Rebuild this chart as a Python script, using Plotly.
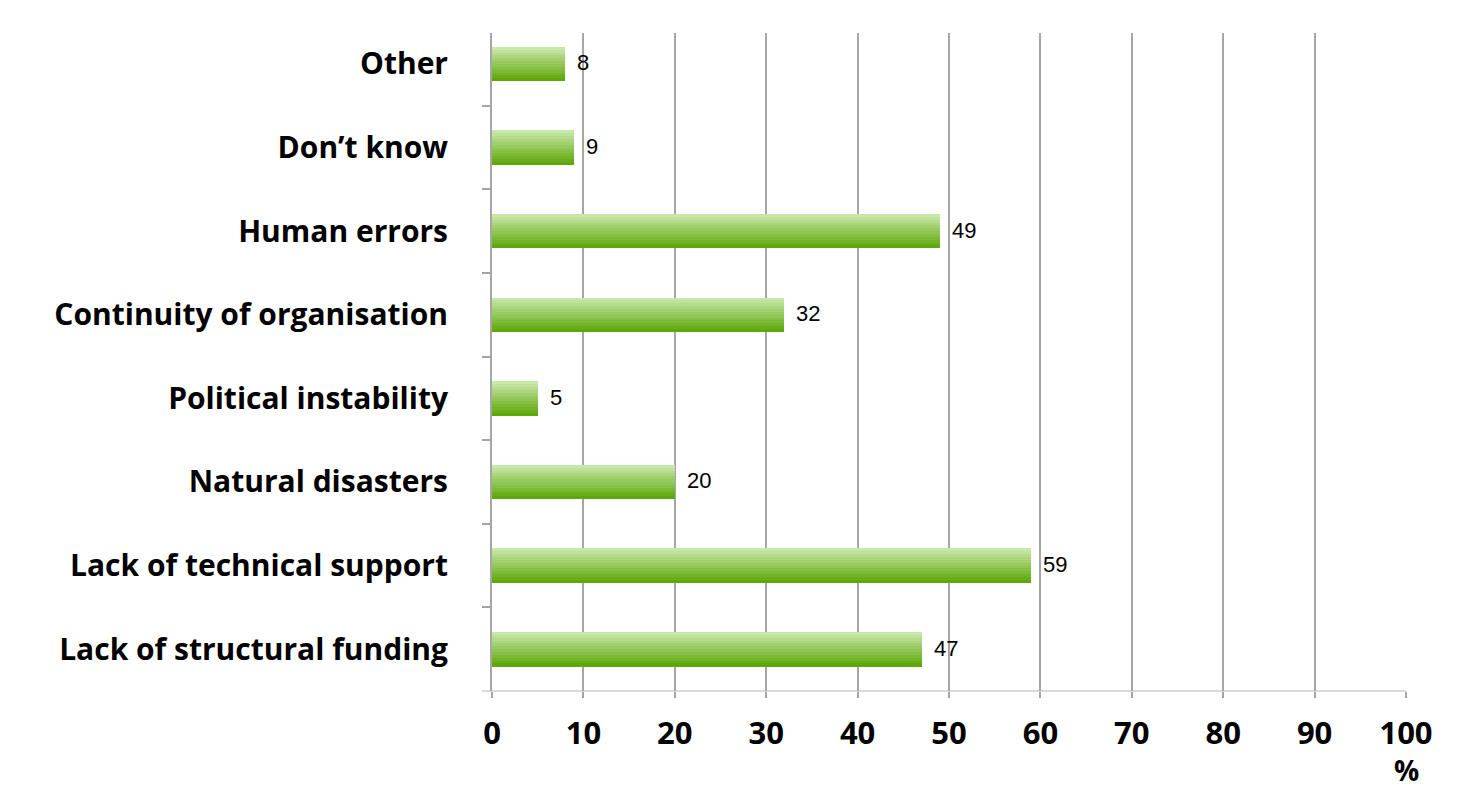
import plotly.graph_objects as go

categories = ["Other", "Don\u2019t know", "Human errors", "Continuity of organisation",
              "Political instability", "Natural disasters", "Lack of technical support",
              "Lack of structural funding"]
values = [8, 9, 49, 32, 5, 20, 59, 47]
x_ticks = [0, 10, 20, 30, 40, 50, 60, 70, 80, 90, 100]

fig = go.Figure()

# gradient bars built from horizontal strips (light top -> dark bottom)
N = 12
bw = 0.41
top = (200, 232, 170)
bot = (96, 168, 10)
for i in range(N):
    t = i / (N - 1)
    c = tuple(int(top[k] + (bot[k] - top[k]) * t) for k in range(3))
    fig.add_trace(go.Bar(
        y=categories, x=values, orientation="h",
        width=bw / N + 0.002, offset=-bw / 2 + i * bw / N,
        marker=dict(color="rgb(%d,%d,%d)" % c, line=dict(width=0)),
        hoverinfo="skip", showlegend=False,
    ))

for c, v in zip(categories, values):
    fig.add_annotation(x=v, y=c, text=str(v), showarrow=False, xanchor="left",
                       xshift=10, yshift=1,
                       font=dict(family="Liberation Sans, Arial", size=22, color="#000"))

fig.add_annotation(x=100, y=0, yref="paper", yanchor="middle", yshift=-79, text="%",
                   showarrow=False, borderpad=0,
                   font=dict(family="Open Sans", size=28, color="#000", weight="bold"))

fig.add_shape(type="line", xref="paper", yref="paper", x0=-0.011, x1=1, y0=0, y1=0,
              line=dict(color="#d9d9d9", width=2), layer="below")

fig.update_layout(
    width=1454, height=781,
    margin=dict(l=484, r=56, t=25, b=98),
    plot_bgcolor="white", paper_bgcolor="white",
    barmode="overlay", bargap=0,
)
fig.update_xaxes(range=[0, 100], tickvals=x_ticks, showgrid=True, gridcolor="#a6a6a6",
                 gridwidth=1.5, zeroline=False, showline=False,
                 ticks="outside", ticklen=6, tickcolor="#a6a6a6", tickwidth=1.5,
                 ticklabelstandoff=9,
                 tickfont=dict(family="Open Sans", size=31, color="#000", weight="bold"))
fig.update_yaxes(autorange=False, range=[7.5, -0.37], showgrid=False, showline=True,
                 linecolor="#a6a6a6", linewidth=2, ticks="outside", tickson="boundaries",
                 ticklen=8, tickcolor="#a6a6a6", tickwidth=1.5, ticklabelstandoff=36,
                 tickfont=dict(family="Open Sans", size=30, color="#000", weight="bold"))

fig.write_html("out.html")
